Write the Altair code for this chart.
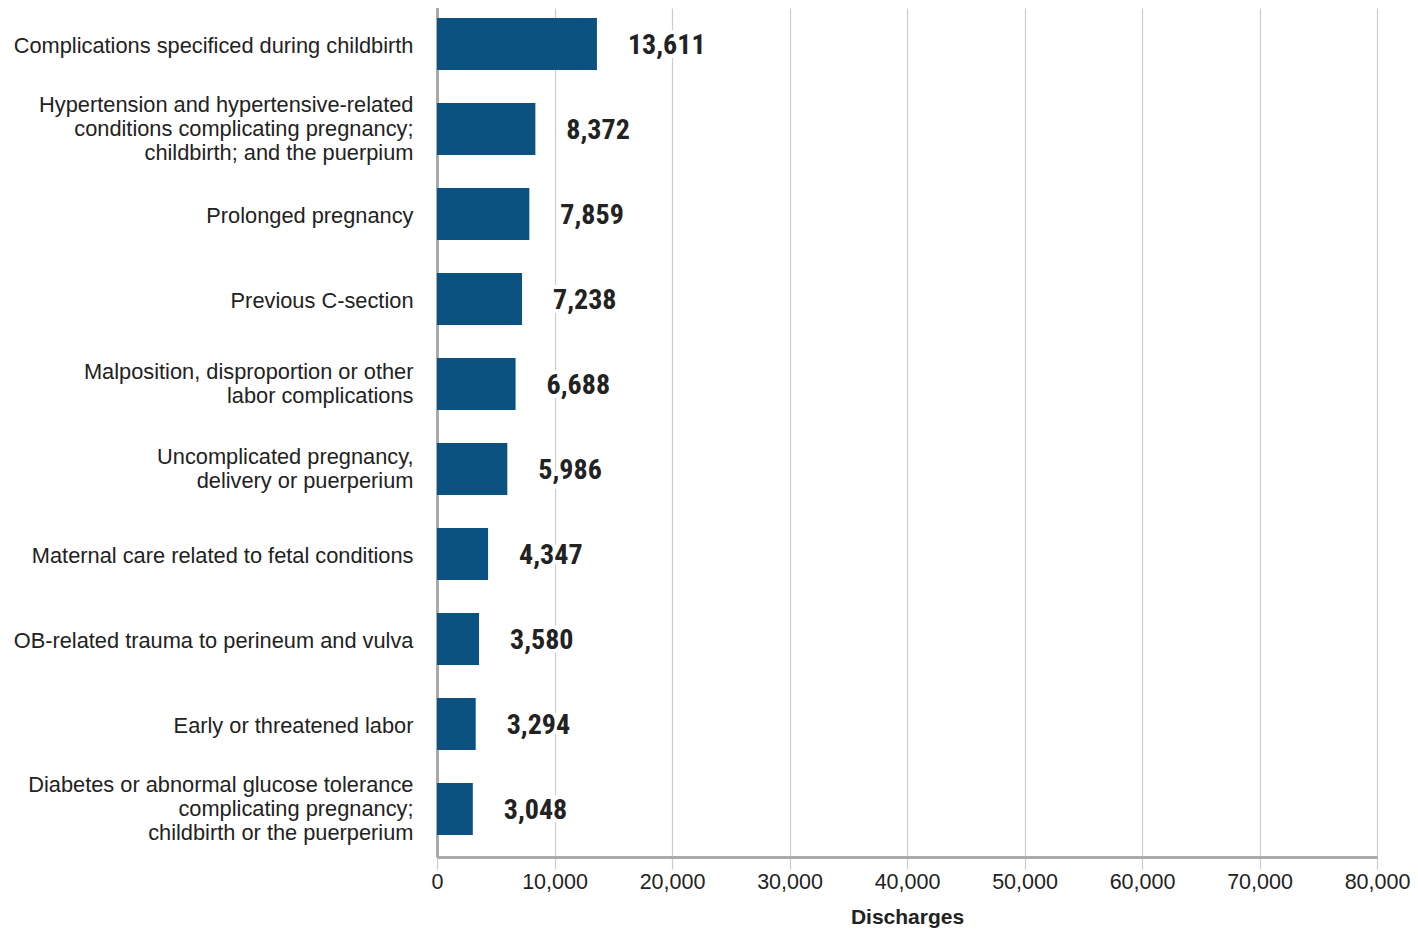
import altair as alt
import pandas as pd

categories = [
    "Complications specificed during childbirth",
    "Hypertension and hypertensive-related|conditions complicating pregnancy;|childbirth; and the puerpium",
    "Prolonged pregnancy",
    "Previous C-section",
    "Malposition, disproportion or other|labor complications",
    "Uncomplicated pregnancy,|delivery or puerperium",
    "Maternal care related to fetal conditions",
    "OB-related trauma to perineum and vulva",
    "Early or threatened labor",
    "Diabetes or abnormal glucose tolerance|complicating pregnancy;|childbirth or the puerperium",
]
values = [13611, 8372, 7859, 7238, 6688, 5986, 4347, 3580, 3294, 3048]
x_ticks = [0, 10000, 20000, 30000, 40000, 50000, 60000, 70000, 80000]

df = pd.DataFrame({"cat": categories, "val": values})
df["lbl"] = [f"{v:,}" for v in values]

AXIS_FONT = "Liberation Sans, Arial, Helvetica, sans-serif"
NUM_FONT = "Roboto Condensed, Liberation Sans Narrow, DejaVu Sans Condensed, sans-serif"

base = alt.Chart(df).encode(
    y=alt.Y(
        "cat:N",
        sort=categories,
        scale=alt.Scale(paddingInner=0.388, paddingOuter=0.259, range=[-12, 849]),
        axis=alt.Axis(
            title=None,
            ticks=False,
            labelExpr="split(datum.label, '|')",
            labelFont=AXIS_FONT,
            labelFontSize=21.8,
            labelColor="#222222",
            labelPadding=24,
            labelLineHeight=24,
            labelLimit=500,
            labelOffset={
                "condition": [
                    {"test": "length(split(datum.label, '|')) == 3", "value": -24},
                    {"test": "length(split(datum.label, '|')) == 2", "value": -12},
                ],
                "value": 2,
            },
            domainColor="#aaaaaa",
            domainWidth=3,
            grid=False,
        ),
    )
)

bars = base.mark_bar(color="#0b5280").encode(
    x=alt.X(
        "val:Q",
        scale=alt.Scale(domain=[0, 80000]),
        axis=alt.Axis(
            values=x_ticks,
            title="Discharges",
            titleFont=AXIS_FONT,
            titleFontSize=21,
            titleFontWeight="bold",
            titleColor="#222222",
            titlePadding=14,
            labelFont=AXIS_FONT,
            labelFontSize=21.5,
            labelColor="#222222",
            labelPadding=14,
            labelFlush=False,
            ticks=False,
            format=",d",
            grid=True,
            gridColor="#cccccc",
            gridWidth=1.2,
            domainColor="#aaaaaa",
            domainWidth=3,
        ),
    )
)

halo = base.mark_text(
    align="left",
    baseline="middle",
    dx=31,
    dy=2,
    font=NUM_FONT,
    fontSize=28,
    fontWeight="bold",
    color="white",
    stroke="white",
    strokeWidth=8,
).encode(x="val:Q", text="lbl:N")

text = base.mark_text(
    align="left",
    baseline="middle",
    dx=31,
    dy=2,
    font=NUM_FONT,
    fontSize=28,
    fontWeight="bold",
    color="#222222",
).encode(x="val:Q", text="lbl:N")

chart = (
    (bars + halo + text)
    .properties(
        width=940,
        height=849,
        autosize=alt.AutoSizeParams(type="none"),
        padding={"left": 429, "top": 0, "right": 33, "bottom": 72},
    )
    .configure_view(stroke=None)
)

chart.save("out.html", embed_options={"renderer": "svg", "actions": False})
